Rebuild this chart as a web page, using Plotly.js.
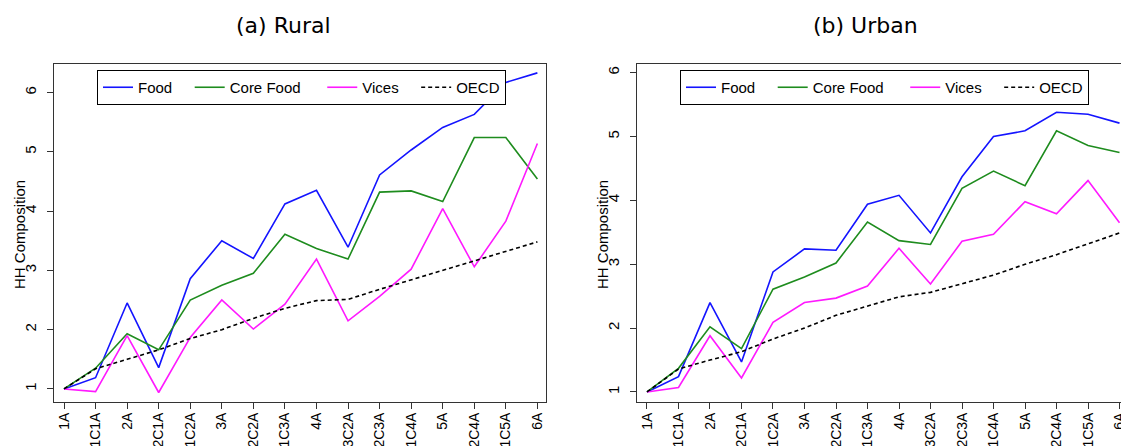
<!DOCTYPE html>
<html>
<head>
<meta charset="utf-8">
<script src="https://cdn.plot.ly/plotly-3.0.1.min.js"></script>
<style>
html,body{margin:0;padding:0;overflow:hidden;background:#fff;width:1121px;height:446px;}
#chart{width:1140px;height:446px;}
</style>
</head>
<body>
<div id="chart"></div>
<script>
// ---- data ----
const categories = ['1A','1C1A','2A','2C1A','1C2A','3A','2C2A','1C3A','4A','3C2A','2C3A','1C4A','5A','2C4A','1C5A','6A'];

const ruralFood  = [1.00,1.19,2.45,1.36,2.86,3.50,3.20,4.12,4.35,3.39,4.61,5.03,5.41,5.63,6.17,6.33];
const ruralCore  = [1.00,1.35,1.93,1.66,2.50,2.75,2.95,3.61,3.37,3.19,4.32,4.34,4.16,5.24,5.24,4.54];
const ruralVices = [1.00,0.955,1.90,0.94,1.87,2.50,2.01,2.43,3.19,2.15,2.56,3.02,4.04,3.06,3.83,5.14];
const ruralOECD  = [1.00,1.34,1.50,1.66,1.85,2.00,2.19,2.36,2.49,2.51,2.68,2.84,3.00,3.16,3.32,3.48];

const urbanFood  = [1.00,1.24,2.40,1.47,2.88,3.24,3.22,3.94,4.08,3.49,4.37,5.00,5.09,5.38,5.35,5.21];
const urbanCore  = [1.00,1.37,2.02,1.68,2.61,2.80,3.02,3.66,3.37,3.31,4.19,4.46,4.23,5.09,4.86,4.75];
const urbanVices = [1.00,1.07,1.88,1.22,2.09,2.40,2.47,2.66,3.25,2.69,3.36,3.47,3.98,3.79,4.31,3.65];
const urbanOECD  = [1.00,1.36,1.50,1.63,1.83,2.00,2.20,2.35,2.49,2.56,2.69,2.83,3.00,3.15,3.32,3.49];

const seriesNames = ['Food','Core Food','Vices','OECD'];
const panelTitles = ['(a) Rural','(b) Urban'];
const yTitle = 'HH Composition';

// ---- styling ----
const W = 1140, H = 446;
const colors = ['#1414ff','#1e8c1e','#ff19ff','#000000'];
const dashes = ['solid','solid','solid','4px,3px'];
const NB = '\u00a0';
const pad = [NB+NB+NB, NB+NB+NB+NB, NB+NB+NB, ''];
const font = 'Liberation Sans, Arial, sans-serif';

function px(x){return x/W;}
function py(y){return (H-y)/H;}

const traces = [];
const panels = [[ruralFood,ruralCore,ruralVices,ruralOECD],[urbanFood,urbanCore,urbanVices,urbanOECD]];
panels.forEach((series,p)=>{
  series.forEach((vals,i)=>{
    traces.push({
      x: categories, y: vals, type:'scatter', mode:'lines',
      name: seriesNames[i] + pad[i],
      line:{color:colors[i], width:1.6, dash:dashes[i]},
      xaxis: p===0?'x':'x2', yaxis: p===0?'y':'y2',
      legend: p===0?'legend':'legend2',
      hoverinfo:'skip'
    });
  });
});

const axCommon = {
  showgrid:false, zeroline:false, showline:true, mirror:true,
  linecolor:'#333', linewidth:1, ticks:'outside', ticklen:6, tickcolor:'#333',
  tickfont:{family:font, size:15, color:'#000'}, tickangle:-90
};
const xExtra = {tickfont:{family:font, size:14, color:'#000'}, ticklabelstandoff:-2};
const yExtra = {ticklabelstandoff:5};

const xdom1 = [px(54), px(545.6)];
const xdom2 = [px(637), px(1127.7)];
const ydom = [py(402), py(64)];

const legCommon = {
  orientation:'h', xanchor:'left', yanchor:'top',
  bgcolor:'#fff', bordercolor:'#000', borderwidth:1,
  font:{family:font, size:15, color:'#000'}, itemclick:false, itemdoubleclick:false
};

const layout = {
  width:W, height:H,
  margin:{l:0,r:0,t:0,b:0},
  paper_bgcolor:'#fff', plot_bgcolor:'#fff',
  showlegend:true,
  xaxis: Object.assign({}, axCommon, xExtra, {domain:xdom1, type:'category', range:[-0.317,15.26], anchor:'y'}),
  yaxis: Object.assign({}, axCommon, yExtra, {domain:ydom, range:[0.78,6.48], tickvals:[1,2,3,4,5,6], anchor:'x'}),
  xaxis2: Object.assign({}, axCommon, xExtra, {domain:xdom2, type:'category', range:[-0.317,15.26], anchor:'y2'}),
  yaxis2: Object.assign({}, axCommon, yExtra, {domain:ydom, range:[0.843,6.136], tickvals:[1,2,3,4,5,6], anchor:'x2'}),
  legend: Object.assign({}, legCommon, {x:px(97), y:py(70)}),
  legend2: Object.assign({}, legCommon, {x:px(680), y:py(70)}),
  annotations:[
    {text:panelTitles[0], xref:'paper', yref:'paper', x:px(283), y:py(26), xanchor:'center', yanchor:'middle', showarrow:false, font:{family:'DejaVu Sans', size:22, color:'#000'}},
    {text:panelTitles[1], xref:'paper', yref:'paper', x:px(865), y:py(26), xanchor:'center', yanchor:'middle', showarrow:false, font:{family:'DejaVu Sans', size:22, color:'#000'}},
    {text:yTitle, xref:'paper', yref:'paper', x:px(19), y:py(235), xanchor:'center', yanchor:'middle', textangle:-90, showarrow:false, font:{family:font, size:15, color:'#000'}},
    {text:yTitle, xref:'paper', yref:'paper', x:px(602), y:py(235), xanchor:'center', yanchor:'middle', textangle:-90, showarrow:false, font:{family:font, size:15, color:'#000'}}
  ]
};

Plotly.newPlot('chart', traces, layout, {staticPlot:true, displayModeBar:false});
</script>
</body>
</html>
